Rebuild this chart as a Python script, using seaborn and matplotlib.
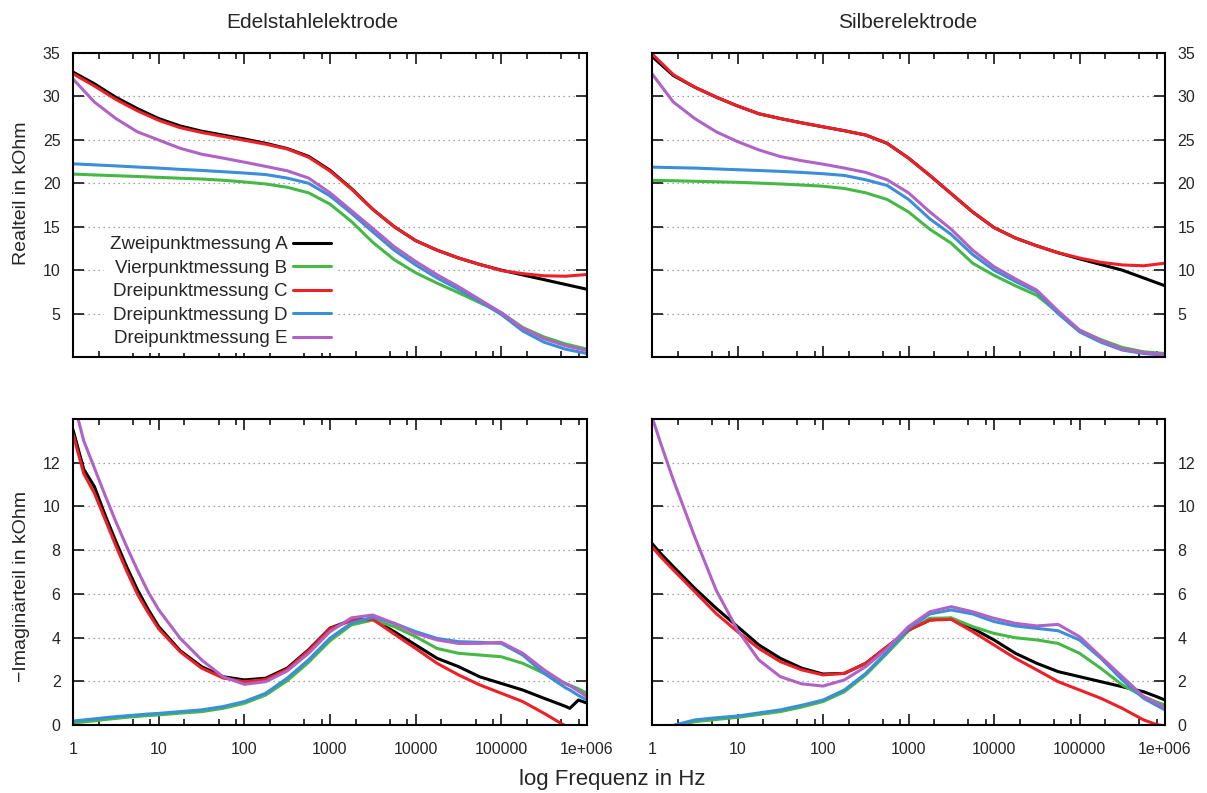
import numpy as np
import pandas as pd
import seaborn as sns
import matplotlib.pyplot as plt
from matplotlib.ticker import FixedLocator, LogLocator, NullFormatter

# log10 of the frequency in Hz at which the curves were read
logf_re = [0, 0.25, 0.5, 0.75, 1, 1.25, 1.5, 1.75, 2, 2.25, 2.5, 2.75, 3, 3.25, 3.5,
           3.75, 4, 4.25, 4.5, 4.75, 5, 5.25, 5.5, 5.75, 6]
logf_im_st = [0, 0.125, 0.25, 0.375, 0.5, 0.625, 0.75, 0.875, 1, 1.25, 1.5, 1.75, 2, 2.25,
              2.5, 2.75, 3, 3.25, 3.5, 3.75, 4, 4.25, 4.5, 4.75, 5, 5.25, 5.5, 5.75, 5.8,
              5.9, 6]
logf_im_ag = [0, 0.1, 0.25, 0.5, 0.75, 1, 1.25, 1.5, 1.75, 2, 2.25, 2.5, 2.75, 3,
              3.25, 3.5, 3.75, 4, 4.25, 4.5, 4.75, 5, 5.25, 5.5, 5.75, 5.9, 6]

series = ['Zweipunktmessung A', 'Vierpunktmessung B', 'Dreipunktmessung C',
          'Dreipunktmessung D', 'Dreipunktmessung E']
colors = ['#000000', '#45b845', '#ec2127', '#3a8fd8', '#b162c6']

# Edelstahl, Realteil (kOhm)
st_re_A = [32.8, 31.45, 29.9, 28.6, 27.45, 26.6, 26.0, 25.55, 25.1, 24.6, 24.0, 23.1, 21.5,
           19.4, 17.0, 15.0, 13.4, 12.3, 11.4, 10.65, 10.0, 9.45, 8.9, 8.35, 7.8]
st_re_B = [21.06, 20.96, 20.87, 20.78, 20.68, 20.58, 20.49, 20.35, 20.15, 19.92, 19.54, 18.9,
           17.6, 15.6, 13.2, 11.2, 9.7, 8.5, 7.4, 6.25, 5.1, 3.4, 2.3, 1.5, 0.9]
st_re_C = [32.6, 31.2, 29.65, 28.35, 27.25, 26.4, 25.85, 25.4, 24.95, 24.5, 23.95, 23.0, 21.4,
           19.35, 17.0, 15.0, 13.4, 12.3, 11.4, 10.65, 9.95, 9.6, 9.35, 9.3, 9.5]
st_re_D = [22.24, 22.12, 22.0, 21.87, 21.75, 21.6, 21.48, 21.33, 21.18, 21.0, 20.6, 20.0,
           18.55, 16.55, 14.4, 12.3, 10.6, 9.1, 7.8, 6.4, 4.9, 3.0, 1.7, 0.9, 0.4]
st_re_E = [32.0, 29.35, 27.45, 25.93, 24.98, 24.03, 23.35, 22.9, 22.43, 21.94, 21.44, 20.6,
           18.9, 16.85, 14.8, 12.7, 11.0, 9.47, 8.1, 6.6, 5.1, 3.3, 2.1, 1.3, 0.75]

# Silber, Realteil (kOhm)
ag_re_A = [34.6, 32.4, 31.06, 29.92, 28.9, 28.0, 27.45, 26.96, 26.5, 26.05, 25.55, 24.6, 22.9,
           20.9, 18.8, 16.7, 14.9, 13.7, 12.8, 12.0, 11.3, 10.65, 10.0, 9.1, 8.2]
ag_re_B = [20.34, 20.29, 20.23, 20.17, 20.11, 20.02, 19.92, 19.8, 19.66, 19.4, 18.9, 18.14,
           16.7, 14.7, 13.1, 10.8, 9.4, 8.2, 7.1, 5.1, 3.1, 2.0, 1.1, 0.6, 0.4]
ag_re_C = [34.9, 32.5, 31.06, 29.92, 28.9, 28.0, 27.45, 26.96, 26.5, 26.05, 25.55, 24.6, 22.9,
           20.9, 18.8, 16.7, 14.9, 13.7, 12.8, 12.0, 11.4, 10.9, 10.6, 10.5, 10.8]
ag_re_D = [21.86, 21.8, 21.75, 21.65, 21.56, 21.47, 21.37, 21.25, 21.1, 20.9, 20.4, 19.75,
           18.15, 15.9, 14.1, 11.8, 10.0, 8.7, 7.5, 5.0, 2.9, 1.7, 0.8, 0.4, 0.2]
ag_re_E = [32.6, 29.35, 27.45, 25.93, 24.8, 23.84, 23.08, 22.6, 22.2, 21.75, 21.25, 20.4,
           18.9, 16.7, 14.7, 12.3, 10.4, 9.0, 7.7, 5.3, 3.1, 1.9, 0.9, 0.5, 0.3]

# Edelstahl, -Imaginaerteil (kOhm)
st_im_A = [13.5, 11.7, 10.9, 9.6, 8.4, 7.25, 6.2, 5.3, 4.5, 3.4, 2.67, 2.21, 2.06, 2.14,
           2.6, 3.44, 4.43, 4.8, 4.83, 4.27, 3.66, 3.05, 2.67, 2.2, 1.9, 1.6, 1.22, 0.85, 0.76,
           1.14, 1.0]
st_im_B = [0.08, 0.14, 0.19, 0.25, 0.3, 0.35, 0.39, 0.43, 0.46, 0.54, 0.61, 0.76, 0.99, 1.37,
           2.02, 2.87, 3.85, 4.58, 4.8, 4.5, 4.04, 3.5, 3.28, 3.2, 3.12, 2.82, 2.36, 1.9, 1.82,
           1.65, 1.45]
st_im_C = [13.3, 11.5, 10.6, 9.4, 8.2, 7.05, 6.0, 5.15, 4.4, 3.35, 2.6, 2.15, 1.98, 2.08,
           2.55, 3.4, 4.4, 4.78, 4.83, 4.16, 3.5, 2.82, 2.29, 1.83, 1.45, 1.07, 0.53, -0.05,
           -0.15, -0.35, -0.6]
st_im_D = [0.18, 0.23, 0.28, 0.33, 0.38, 0.42, 0.46, 0.5, 0.53, 0.61, 0.69, 0.84, 1.07, 1.45,
           2.14, 2.98, 3.97, 4.66, 4.93, 4.65, 4.27, 3.96, 3.81, 3.78, 3.73, 3.2, 2.36, 1.7,
           1.6, 1.35, 1.14]
st_im_E = [14.9, 13.0, 11.75, 10.5, 9.3, 8.17, 7.1, 6.1, 5.27, 3.97, 2.98, 2.21, 1.86, 1.98,
           2.47, 3.28, 4.27, 4.9, 5.03, 4.65, 4.19, 3.89, 3.73, 3.73, 3.78, 3.28, 2.52, 1.88,
           1.8, 1.55, 1.3]

# Silber, -Imaginaerteil (kOhm)
ag_im_A = [8.3, 7.85, 7.24, 6.25, 5.34, 4.5, 3.66, 3.05, 2.6, 2.33, 2.36, 2.82, 3.58, 4.34,
           4.8, 4.88, 4.42, 3.89, 3.28, 2.82, 2.44, 2.21, 1.98, 1.75, 1.52, 1.3, 1.14]
ag_im_B = [-0.35, -0.15, -0.05, 0.15, 0.25, 0.35, 0.48, 0.61, 0.82, 1.07, 1.52, 2.29, 3.28,
           4.31, 4.88, 4.9, 4.5, 4.19, 3.99, 3.89, 3.73, 3.28, 2.59, 1.83, 1.3, 1.05, 0.91]
ag_im_C = [8.15, 7.7, 7.09, 6.1, 5.1, 4.27, 3.5, 2.9, 2.52, 2.29, 2.36, 2.82, 3.58, 4.34,
           4.8, 4.83, 4.27, 3.66, 3.05, 2.52, 1.98, 1.6, 1.22, 0.76, 0.23, 0.02, -0.05]
ag_im_D = [-0.3, -0.15, -0.02, 0.23, 0.33, 0.41, 0.55, 0.69, 0.9, 1.14, 1.6, 2.36, 3.35,
           4.42, 5.08, 5.26, 5.08, 4.73, 4.53, 4.42, 4.31, 3.89, 3.05, 2.06, 1.22, 0.9, 0.69]
ag_im_E = [14.1, 12.9, 11.2, 8.6, 6.17, 4.34, 2.97, 2.21, 1.88, 1.78, 2.06, 2.67, 3.5, 4.5,
           5.18, 5.41, 5.18, 4.88, 4.65, 4.53, 4.6, 4.04, 3.12, 2.21, 1.3, 1.0, 0.76]

xtick_vals = [1, 10, 100, 1000, 10000, 100000, 1000000]
xtick_labels = ['1', '10', '100', '1000', '10000', '100000', '1e+006']


def make_frame(logf, cols):
    rows = []
    for name, vals in zip(series, cols):
        for lf, v in zip(logf, vals):
            rows.append((10 ** lf, v, name))
    return pd.DataFrame(rows, columns=['freq', 'value', 'series'])


def draw_panel(ax, logf, cols, ylim, yticks, right=False, bottom=False):
    ax.set_xscale('log')
    df = make_frame(logf, cols)
    sns.lineplot(data=df, x='freq', y='value', hue='series', hue_order=series,
                 palette=colors, sort=False, estimator=None, linewidth=2.2,
                 legend=False, ax=ax)
    ax.set_xlim(1, 1e6)
    ax.set_ylim(*ylim)
    ax.set_xlabel('')
    ax.set_ylabel('')
    ax.xaxis.set_major_locator(FixedLocator(xtick_vals))
    ax.xaxis.set_minor_locator(LogLocator(base=10, subs=(2, 5, 8)))
    ax.xaxis.set_minor_formatter(NullFormatter())
    if bottom:
        ax.set_xticklabels(xtick_labels)
    else:
        ax.set_xticklabels([])
    ax.set_yticks(yticks)
    ax.yaxis.grid(True, linestyle=(0, (1, 3)), color='#888888', linewidth=0.9)
    ax.tick_params(which='both', direction='in', top=True, bottom=True,
                   left=True, right=True, labelsize=11.5, width=1.3)
    ax.tick_params(which='major', length=8)
    ax.tick_params(which='minor', length=4)
    ax.tick_params(axis='x', which='both', pad=12)
    ax.tick_params(axis='y', pad=9, labelleft=not right, labelright=right)
    for s in ax.spines.values():
        s.set_linewidth(1.5)
        s.set_color('black')


sns.set_style('ticks')
plt.rcParams['font.family'] = ['Liberation Sans', 'DejaVu Sans']

fig = plt.figure(figsize=(12.07, 7.93), dpi=100)
ax_tl = fig.add_axes([0.0605, 0.5498, 0.4258, 0.3834])
ax_tr = fig.add_axes([0.5402, 0.5498, 0.4250, 0.3834])
ax_bl = fig.add_axes([0.0605, 0.0858, 0.4258, 0.3859])
ax_br = fig.add_axes([0.5402, 0.0858, 0.4250, 0.3859])

draw_panel(ax_tl, logf_re, [st_re_A, st_re_B, st_re_C, st_re_D, st_re_E],
           (0, 35), [5, 10, 15, 20, 25, 30, 35])
draw_panel(ax_tr, logf_re, [ag_re_A, ag_re_B, ag_re_C, ag_re_D, ag_re_E],
           (0, 35), [5, 10, 15, 20, 25, 30, 35], right=True)
draw_panel(ax_bl, logf_im_st, [st_im_A, st_im_B, st_im_C, st_im_D, st_im_E],
           (0, 14), [0, 2, 4, 6, 8, 10, 12], bottom=True)
draw_panel(ax_br, logf_im_ag, [ag_im_A, ag_im_B, ag_im_C, ag_im_D, ag_im_E],
           (0, 14), [0, 2, 4, 6, 8, 10, 12], right=True, bottom=True)

leg = ax_tl.legend(ax_tl.lines[:5], series, loc='lower right',
                   bbox_to_anchor=(0.512, 0.013), borderaxespad=0, markerfirst=False,
                   fontsize=13.5, handlelength=2.0, handletextpad=0.3, labelspacing=0.34,
                   frameon=True, fancybox=False, borderpad=0.3)
leg.get_frame().set_facecolor('white')
leg.get_frame().set_edgecolor('none')
leg.get_frame().set_alpha(1)

fig.text(312 / 1207, 1 - 22 / 793, 'Edelstahlelektrode', ha='center', va='center', fontsize=15)
fig.text(908 / 1207, 1 - 22 / 793, 'Silberelektrode', ha='center', va='center', fontsize=15)
fig.text(22 / 1207, 1 - 193 / 793, 'Realteil in kOhm', rotation=90,
         ha='center', va='center', fontsize=14)
fig.text(22 / 1207, 1 - 586 / 793, '\u2212Imaginärteil in kOhm', rotation=90,
         ha='center', va='center', fontsize=14)
fig.text(612 / 1207, 1 - 779 / 793, 'log Frequenz in Hz', ha='center', va='center', fontsize=16)

fig.savefig('out.png', dpi=100)
